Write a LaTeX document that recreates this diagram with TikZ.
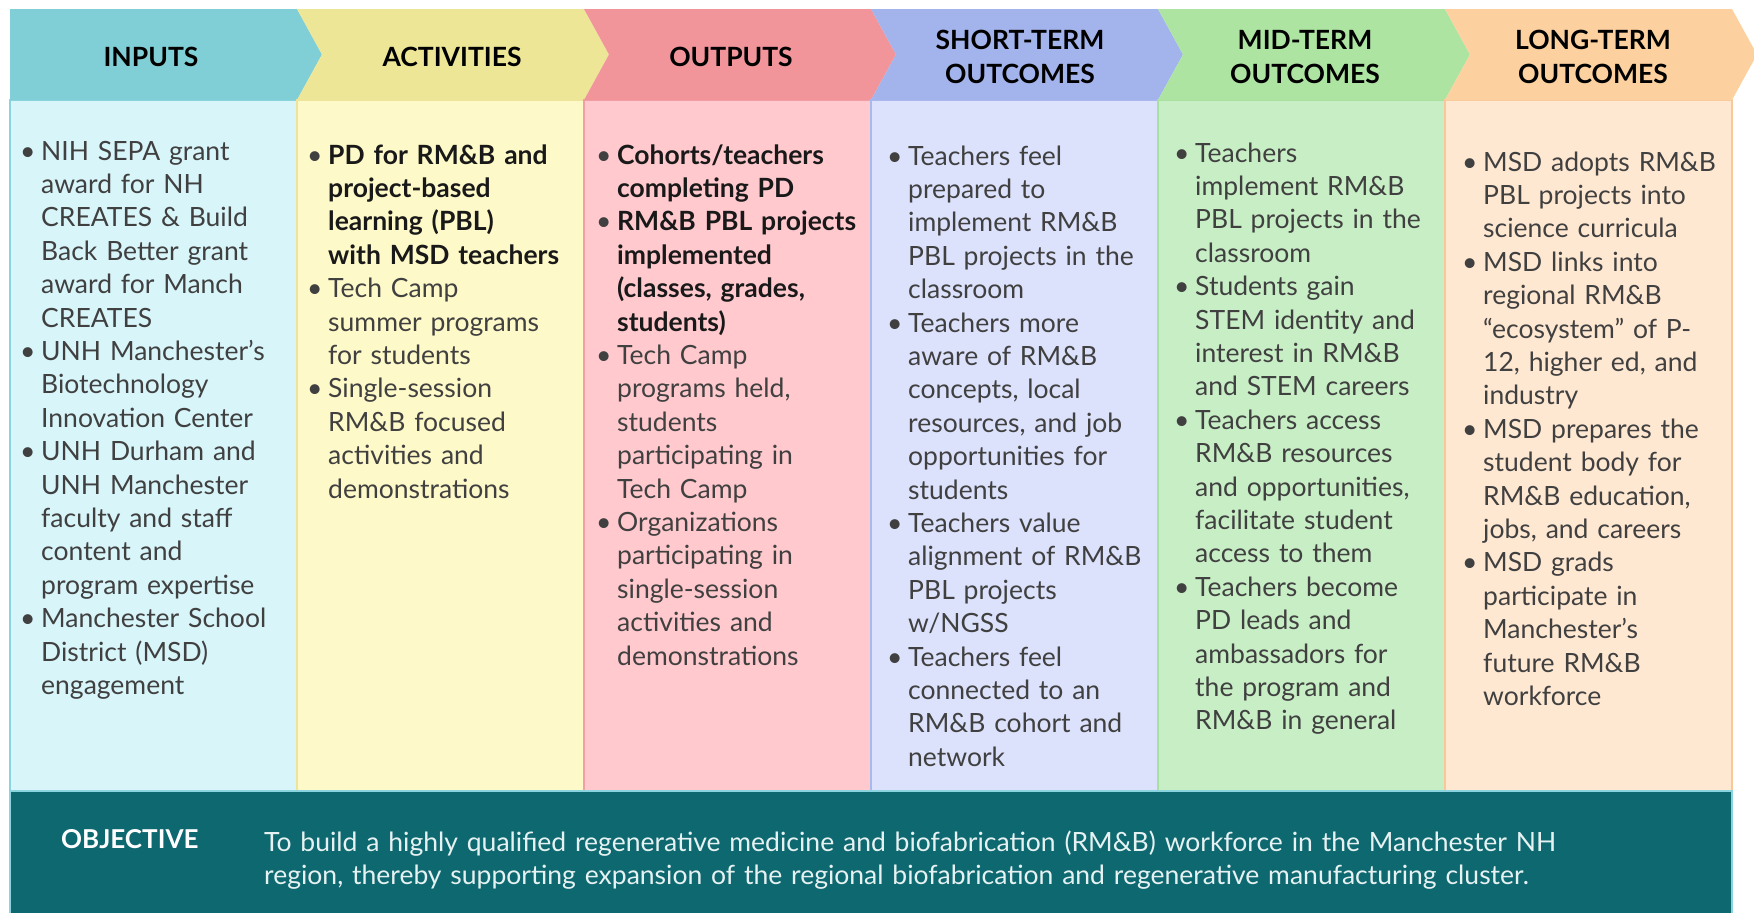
\documentclass[tikz,border=0pt]{standalone}
\usepackage{fontspec}
\setmainfont{Lato}
\usetikzlibrary{positioning}

% column colours: header, body, rule
\definecolor{inHead}{HTML}{80CFD6}   \definecolor{inBody}{HTML}{D8F5FA}   \definecolor{inLine}{HTML}{8AD4DF}
\definecolor{actHead}{HTML}{EDE697}  \definecolor{actBody}{HTML}{FEF9C8}  \definecolor{actLine}{HTML}{EDE39B}
\definecolor{outHead}{HTML}{F2959A}  \definecolor{outBody}{HTML}{FFC9CE}  \definecolor{outLine}{HTML}{F0A0A6}
\definecolor{stHead}{HTML}{A3B3EC}   \definecolor{stBody}{HTML}{DCE1FC}   \definecolor{stLine}{HTML}{A9B8EE}
\definecolor{mtHead}{HTML}{ADE4A2}   \definecolor{mtBody}{HTML}{C8EEC5}   \definecolor{mtLine}{HTML}{A8E0A0}
\definecolor{ltHead}{HTML}{FDD19F}   \definecolor{ltBody}{HTML}{FFE8D2}   \definecolor{ltLine}{HTML}{F8C89A}
\definecolor{objTeal}{HTML}{0E6870}
\definecolor{bodyGrey}{HTML}{404040}
\definecolor{objText}{HTML}{E6F2F2}

\tikzset{
    headtext/.style={font=\bfseries\fontsize{26.5}{34}\selectfont, align=center, text=black, inner sep=0pt},
    listtext/.style={anchor=base west, text width=300pt, align=left, inner sep=0pt,
        font=\fontsize{26.5}{33.4}\selectfont, text=bodyGrey},
    objlabel/.style={font=\bfseries\fontsize{26}{30}\selectfont, text=white, inner sep=0pt, anchor=west},
    objbody/.style={font=\fontsize{26.5}{33}\selectfont, text=objText, inner sep=0pt, anchor=base west,
        text width=1460pt, align=left},
}

% one bullet entry, lines broken by hand
\newcommand\bitem[1]{\hangindent=15pt\hangafter=1\noindent\makebox[15pt][l]{\hspace{-6pt}\textbullet}#1\par}
\newcommand\bbold[1]{{\bfseries\color{black!90}#1}}

\begin{document}
\begin{tikzpicture}[x=1pt, y=-1pt]
    % Parameters
    \def\xo{10}      % left edge
    \def\colw{287}   % width of each column
    \def\topy{9}     % top of the header band
    \def\headb{100}  % bottom of the header band
    \def\boty{791}   % bottom of the columns
    \def\tip{25}     % depth of the chevron point
    \pgfmathsetmacro{\midy}{(\topy+\headb)/2}

    \useasboundingbox (0,0) rectangle (1754,913);
    \fill[white] (0,0) rectangle (1754,913);

    % Draw the columns and the chevron headers
    \foreach \i/\hc/\bc/\lc in {0/inHead/inBody/inLine, 1/actHead/actBody/actLine,
                                2/outHead/outBody/outLine, 3/stHead/stBody/stLine,
                                4/mtHead/mtBody/mtLine, 5/ltHead/ltBody/ltLine} {
            \pgfmathsetmacro{\xl}{\xo + \i*\colw}
            \pgfmathsetmacro{\xr}{\xl + \colw}
            \pgfmathsetmacro{\nt}{\i > 0 ? \tip : 0}
            \filldraw[fill=\bc, draw=\lc, line width=1.5pt] (\xl, \headb) rectangle (\xr, \boty);
            \fill[\hc] (\xl, \topy) -- (\xr, \topy) -- (\xr+\tip, \midy) -- (\xr, \headb)
                -- (\xl, \headb) -- (\xl+\nt, \midy) -- cycle;
        }

    % Header labels
    \node[headtext] (hdrIn)  at (151, 57)  {INPUTS};
    \node[headtext] (hdrAct) at (452, 57)  {ACTIVITIES};
    \node[headtext] (hdrOut) at (731, 57)  {OUTPUTS};
    \node[headtext] (hdrST)  at (1020, 57) {SHORT-TERM\\OUTCOMES};
    \node[headtext] (hdrMT)  at (1305, 57) {MID-TERM\\OUTCOMES};
    \node[headtext] (hdrLT)  at (1593, 57) {LONG-TERM\\OUTCOMES};

    % Column lists
    \node[listtext] (listIn) at (26, 160) {%
        \bitem{NIH SEPA grant\newline award for NH\newline CREATES \& Build\newline Back Better grant\newline award for Manch\newline CREATES}
        \bitem{UNH Manchester’s\newline Biotechnology\newline Innovation Center}
        \bitem{UNH Durham and\newline UNH Manchester\newline faculty and staff\newline content and\newline program expertise}
        \bitem{Manchester School\newline District (MSD)\newline engagement}};

    \node[listtext] (listAct) at (313, 164) {%
        \bitem{\bbold{PD for RM\&B and\newline project-based\newline learning (PBL)\newline with MSD teachers}}
        \bitem{Tech Camp\newline summer programs\newline for students}
        \bitem{Single-session\newline RM\&B focused\newline activities and\newline demonstrations}};

    \node[listtext] (listOut) at (602, 164) {%
        \bitem{\bbold{Cohorts/teachers\newline completing PD}}
        \bitem{\bbold{RM\&B PBL projects\newline implemented\newline (classes, grades,\newline students)}}
        \bitem{Tech Camp\newline programs held,\newline students\newline participating in\newline Tech Camp}
        \bitem{Organizations\newline participating in\newline single-session\newline activities and\newline demonstrations}};

    \node[listtext] (listST) at (893, 165) {%
        \bitem{Teachers feel\newline prepared to\newline implement RM\&B\newline PBL projects in the\newline classroom}
        \bitem{Teachers more\newline aware of RM\&B\newline concepts, local\newline resources, and job\newline opportunities for\newline students}
        \bitem{Teachers value\newline alignment of RM\&B\newline PBL projects\newline w/NGSS}
        \bitem{Teachers feel\newline connected to an\newline RM\&B cohort and\newline network}};

    \node[listtext] (listMT) at (1180, 162) {%
        \bitem{Teachers\newline implement RM\&B\newline PBL projects in the\newline classroom}
        \bitem{Students gain\newline STEM identity and\newline interest in RM\&B\newline and STEM careers}
        \bitem{Teachers access\newline RM\&B resources\newline and opportunities,\newline facilitate student\newline access to them}
        \bitem{Teachers become\newline PD leads and\newline ambassadors for\newline the program and\newline RM\&B in general}};

    \node[listtext] (listLT) at (1468, 171) {%
        \bitem{MSD adopts RM\&B\newline PBL projects into\newline science curricula}
        \bitem{MSD links into\newline regional RM\&B\newline “ecosystem” of P-\newline 12, higher ed, and\newline industry}
        \bitem{MSD prepares the\newline student body for\newline RM\&B education,\newline jobs, and careers}
        \bitem{MSD grads\newline participate in\newline Manchester’s\newline future RM\&B\newline workforce}};

    % Objective band
    \filldraw[fill=objTeal, draw=inLine, line width=1.5pt] (\xo, \boty) rectangle (\xo+6*\colw, 920);
    \node[objlabel] (objLabel) at (61, 839) {OBJECTIVE};
    \node[objbody] (objText) at (264, 851) {To build a highly qualified regenerative medicine and biofabrication (RM\&B) workforce in the Manchester NH\newline region, thereby supporting expansion of the regional biofabrication and regenerative manufacturing cluster.};
\end{tikzpicture}
\end{document}
